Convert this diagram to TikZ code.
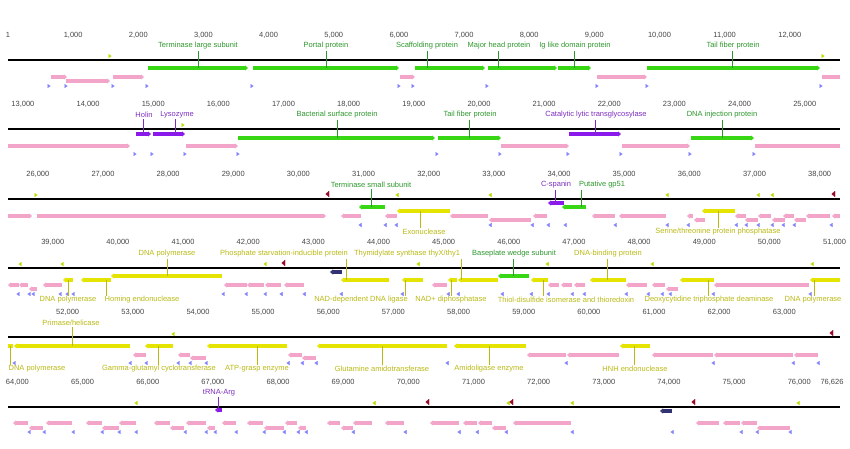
\documentclass[tikz,border=0pt]{standalone}
\usepackage{fontspec}
\setmainfont{Liberation Sans}
\usetikzlibrary{arrows.meta}
\definecolor{genegreen}{RGB}{55,215,20}
\definecolor{genepink}{RGB}{242,165,201}
\definecolor{geneyellow}{RGB}{228,228,0}
\definecolor{genepurple}{RGB}{140,25,235}
\definecolor{genenavy}{RGB}{50,50,115}
\definecolor{markblue}{RGB}{130,130,250}
\definecolor{markyg}{RGB}{185,220,0}
\definecolor{markred}{RGB}{150,10,40}
\definecolor{txtgreen}{RGB}{45,150,45}
\definecolor{txtyellow}{RGB}{185,185,20}
\definecolor{txtpurple}{RGB}{125,45,190}
\definecolor{txtgray}{RGB}{70,70,70}

\begin{document}
\begin{tikzpicture}[x=1pt, y=-1pt,
    bar/.style={line width=3.4pt},
    fw/.style={bar, -{Triangle[length=3pt,width=5pt]}},
    rv/.style={bar, {Triangle[length=3pt,width=5pt]}-},
    fmk/.style={line width=0.01pt, -{Triangle[length=3pt,width=4pt]}},
    rmk/.style={line width=0.01pt, {Triangle[length=3pt,width=4pt]}-},
    bigmk/.style={line width=0.01pt, {Triangle[length=3.5pt,width=6pt]}-},
    axis/.style={line width=1.8pt},
    num/.style={font=\fontsize{7.5}{8}\selectfont, text=txtgray, inner sep=0},
    lbl/.style={font=\fontsize{7.5}{8}\selectfont, inner sep=0.8pt},
    lead/.style={line width=0.5pt}]
\useasboundingbox (0,0) rectangle (850,448);

\foreach \r/\a/\b/\y in {1/1/12/35, 2/13/25/104, 3/26/38/174, 4/39/51/242, 5/52/63/312, 6/64/76/382}
  \foreach \k in {\a,...,\b}
    \node[num] (k\k) at ({8+(\k-(\r-1)*12.771)*65.15}, \y) {\k,000};
\node[num] (k0) at (8,35) {1};
\node[num] (kend) at (832,382) {76,626};

\foreach \y in {60,129,199,268,337,407}
  \draw[axis] (8,\y) -- (840,\y);

% row 1
\foreach \x in {110,823} \draw[fmk, markyg] (\x-1.5,56) -- (\x+1.5,56);
\foreach \a/\b in {148/248,253/399,415/485,488/557,558/591,647/820} \draw[fw, genegreen] (\a,68) -- (\b,68);
\foreach \a/\b/\y in {51/67/77,66/110/81,113/144/77,400/415/77,597/647/77} \draw[fw, genepink] (\a,\y) -- (\b,\y);
\draw[bar, genepink] (822,77) -- (840,77);
\foreach \x in {49,66,113,147,252,399,413,487,597,647,821} \draw[fmk, markblue] (\x-1.5,86) -- (\x+1.5,86);

% row 2
\draw[fmk, markyg] (181.5,125) -- (184.5,125);
\foreach \a/\b in {136/151,153/185,569/621} \draw[fw, genepurple] (\a,134) -- (\b,134);
\foreach \a/\b in {238/435,438/501,691/754} \draw[fw, genegreen] (\a,138) -- (\b,138);
\foreach \a/\b in {8/130,186/238,501/569,622/690} \draw[fw, genepink] (\a,146) -- (\b,146);
\draw[bar, genepink] (755,146) -- (840,146);
\foreach \x in {135,152,185,238,437,500,568,621,690,754} \draw[fmk, markblue] (\x-1.5,154) -- (\x+1.5,154);

% row 3
\draw[fmk, markyg] (34.5,195) -- (37.5,195);
\foreach \x in {397,490,667,758,772} \draw[rmk, markyg] (\x-1.5,195) -- (\x+1.5,195);
\foreach \x in {327,833} \draw[bigmk, markred] (\x-1.5,194) -- (\x+2,194);
\foreach \a/\b in {8/32,37/326} \draw[fw, genepink] (\a,216) -- (\b,216);
\foreach \a/\b/\y in {341/361/216,385/397/216,450/488/216,489/531/220,533/547/216,592/615/216,619/666/216,687/693/216,694/705/220,735/746/216,745/758/220,758/771/216,772/785/220,783/794/216,794/806/220,806/830/216,832/840/216}
  \draw[rv, genepink] (\a,\y) -- (\b,\y);
\foreach \a/\b in {359/385,562/586} \draw[rv, genegreen] (\a,207) -- (\b,207);
\draw[rv, genepurple] (548,203) -- (564,203);
\foreach \a/\b in {397/450,702/735} \draw[rv, geneyellow] (\a,211) -- (\b,211);
\foreach \x in {360,385,396,490,532,548,565,615,667,688,736,746,758,772,783,794,831} \draw[rmk, markblue] (\x-1.5,225) -- (\x+1.5,225);

% row 4
\foreach \x in {20,62,265,418,547,652,812} \draw[rmk, markyg] (\x-1.5,264) -- (\x+1.5,264);
\draw[bigmk, markred] (281.5,263) -- (285,263);
\draw[rv, genenavy] (330,272) -- (342,272);
\draw[rv, geneyellow] (111,276) -- (222,276);
\draw[rv, genegreen] (498,276) -- (529,276);
\foreach \a/\b in {63/73,81/111,341/389,402/423,448/457,458/498,531/548,590/626,680/714,810/840} \draw[rv, geneyellow] (\a,280) -- (\b,280);
\foreach \a/\b/\y in {8/19/285,19/28/285,29/37/289,43/62/285,224/247/285,247/264/285,265/281/285,284/304/285,432/447/285,548/559/285,561/572/285,574/585/285,626/647/285,652/665/285,666/678/289,714/809/285}
  \draw[rv, genepink] (\a,\y) -- (\b,\y);
\foreach \x in {18,29,33,60,67,73,223,246,265,281,304,341,402,448,458,502,531,548,572,584,626,648,662,670,713,810} \draw[rmk, markblue] (\x-1.5,294) -- (\x+1.5,294);

% row 5
\draw[rmk, markyg] (171.5,334) -- (174.5,334);
\draw[bigmk, markred] (829.5,333) -- (833,333);
\draw[bar, geneyellow] (8,346) -- (13,346);
\foreach \a/\b in {14/130,145/173,207/287,317/447,454/526,620/650} \draw[rv, geneyellow] (\a,346) -- (\b,346);
\foreach \a/\b/\y in {133/146/355,178/190/355,190/206/358,288/302/355,302/316/358,527/566/355,567/619/355,652/713/355,714/793/355,794/818/355}
  \draw[rv, genepink] (\a,\y) -- (\b,\y);
\foreach \x in {14,130,146,178,190,206,288,302,316,447,566,713,793,818} \draw[rmk, markblue] (\x-1.5,363) -- (\x+1.5,363);

% row 6
\foreach \x in {136,374,508,572,798} \draw[rmk, markyg] (\x-1.5,403) -- (\x+1.5,403);
\foreach \x in {427,511,693} \draw[bigmk, markred] (\x-1.5,402) -- (\x+2,402);
\draw[rv, genepurple] (215,410) -- (222,410);
\draw[rv, genenavy] (660,411) -- (672,411);
\foreach \a/\b/\y in {13/28/423,29/43/428,46/72/423,86/102/423,102/119/428,119/136/423,154/170/423,170/184/428,186/206/423,207/215/428,222/236/423,247/263/423,264/284/428,285/297/423,298/306/428,327/340/423,341/353/428,353/372/423,385/404/423,430/459/423,463/477/423,478/492/423,492/506/428,513/571/423,696/719/423,723/740/423,741/757/423,757/790/428}
  \draw[rv, genepink] (\a,\y) -- (\b,\y);
\foreach \x in {29,44,73,102,119,136,185,206,215,236,264,284,298,306,353,405,459,477,506,572,672,741,757,790} \draw[rmk, markblue] (\x-1.5,432) -- (\x+1.5,432);

% labels above the line
\foreach \nm/\lx/\ly/\gx/\gy/\col/\txt in {
    tls/198/46/198/68/txtgreen/Terminase large subunit,
    portal/326/46/326/68/txtgreen/Portal protein,
    scaff/427/46/427/68/txtgreen/Scaffolding protein,
    mhp/499/46/498/68/txtgreen/Major head protein,
    igd/575/46/574/68/txtgreen/Ig like domain protein,
    tailA/733/46/732/68/txtgreen/Tail fiber protein,
    holin/144/115/143/134/txtpurple/Holin,
    lyso/177/115/175/134/txtpurple/Lysozyme,
    bsp/337/115/337/138/txtgreen/Bacterial surface protein,
    tailB/470/115/469/138/txtgreen/Tail fiber protein,
    clt/596/115/595/134/txtpurple/Catalytic lytic transglycosylase,
    dinj/722/115/722/138/txtgreen/DNA injection protein,
    tss/371/185/371/207/txtgreen/Terminase small subunit,
    cspan/556/185/555/203/txtpurple/C-spanin,
    gpfo/602/185/581/207/txtgreen/Putative gp51,
    polA/167/254/167/276/txtyellow/DNA polymerase,
    psip/284/254/346/280/txtyellow/Phosphate starvation-inducible protein,
    thyx/407/254/461/280/txtyellow/{Thymidylate synthase thyX/thy1},
    bws/514/254/513/276/txtgreen/Baseplate wedge subunit,
    dnab/608/254/607/280/txtyellow/DNA-binding protein,
    prim/71/323/72/346/txtyellow/{Primase/helicase},
    trna/219/393/218/410/txtpurple/tRNA-Arg}
{
  \node[lbl, text=\col] (\nm) at (\lx,\ly) {\txt};
  \coordinate (\nm g) at (\gx,\gy);
  \draw[lead, \col] (\nm g |- \nm.south) -- (\nm g);
}

% labels below the genes
\foreach \nm/\lx/\ly/\gx/\gy/\col/\txt in {
    exo/424/232/420/211/txtyellow/Exonuclease,
    stpp/718/232/718/211/txtyellow/{Serine/threonine protein phosphatase},
    polB/68/300/68/280/txtyellow/DNA polymerase,
    homing/142/300/106/280/txtyellow/Homing endonuclease,
    ligase/361/300/405/280/txtyellow/NAD-dependent DNA ligase,
    nadd/451/300/451/280/txtyellow/NAD+ diphosphatase,
    thiol/566/300/543/280/txtyellow/Thiol-disulfide isomerase and thioredoxin,
    dctp/709/300/708/280/txtyellow/Deoxycytidine triphosphate deaminase,
    polC/813/300/814/280/txtyellow/DNA polymerase,
    polD/37/369/10/346/txtyellow/DNA polymerase,
    ggc/159/369/158/346/txtyellow/Gamma-glutamyl cyclotransferase,
    atpg/257/369/257/346/txtyellow/ATP-grasp enzyme,
    glut/382/369/382/346/txtyellow/Glutamine amidotransferase,
    amid/489/369/489/346/txtyellow/Amidoligase enzyme,
    hnh/635/369/634/346/txtyellow/HNH endonuclease}
{
  \node[lbl, text=\col] (\nm) at (\lx,\ly) {\txt};
  \coordinate (\nm g) at (\gx,\gy);
  \draw[lead, \col] (\nm g) -- (\nm g |- \nm.north);
}
\end{tikzpicture}
\end{document}
